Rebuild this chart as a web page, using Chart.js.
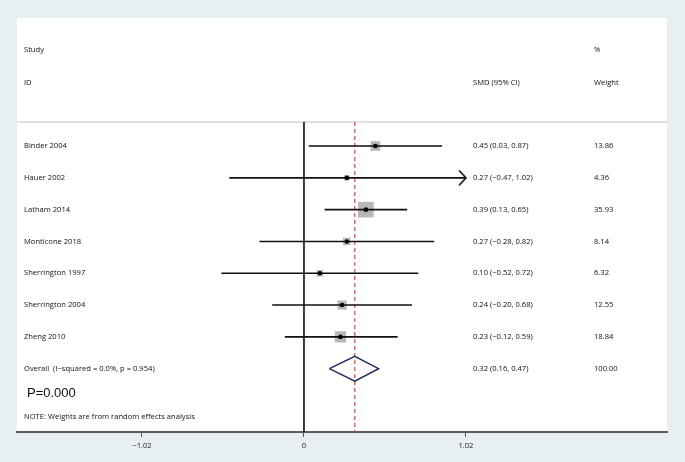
<!DOCTYPE html>
<html><head><meta charset="utf-8">
<script src="https://cdn.jsdelivr.net/npm/chart.js@4.4.1/dist/chart.umd.min.js"></script>
<style>html,body{margin:0;padding:0;background:#e8eff2;overflow:hidden}</style>
</head><body>
<canvas id="c" width="685" height="462" style="display:block;width:685px;height:462px"></canvas>
<script>
const studies = ['Binder 2004','Hauer 2002','Latham 2014','Monticone 2018','Sherrington 1997','Sherrington 2004','Zheng 2010'];
const smd = [0.45, 0.27, 0.39, 0.27, 0.10, 0.24, 0.23];
const ciLow = [0.03, -0.47, 0.13, -0.28, -0.52, -0.20, -0.12];
const ciHigh = [0.87, 1.02, 0.65, 0.82, 0.72, 0.68, 0.59];
const weights = [13.86, 4.36, 35.93, 8.14, 6.32, 12.55, 18.84];
const smdText = ['0.45 (0.03, 0.87)','0.27 (\u22120.47, 1.02)','0.39 (0.13, 0.65)','0.27 (\u22120.28, 0.82)','0.10 (\u22120.52, 0.72)','0.24 (\u22120.20, 0.68)','0.23 (\u22120.12, 0.59)'];
const weightText = ['13.86','4.36','35.93','8.14','6.32','12.55','18.84'];
const overallLabel = 'Overall  (I\u2212squared = 0.0%, p = 0.954)';
const overallSmd = 0.32, overallLow = 0.16, overallHigh = 0.47;
const overallSmdText = '0.32 (0.16, 0.47)';
const overallWeightText = '100.00';
const xTicks = [-1.02, 0, 1.02];
const xTickLabels = ['\u22121.02', '0', '1.02'];
const pText = 'P=0.000';
const noteText = 'NOTE: Weights are from random effects analysis';
const headerLeft = ['Study', 'ID'];
const headerMid = ['', 'SMD (95% CI)'];
const headerRight = ['%', 'Weight'];

// layout constants (row positions in row units)
const Y_MIN = -0.755, Y_MAX = 8.99;
const OVERALL_ROW = studies.length;
const P_ROW = 7.77, NOTE_ROW = 8.52;
const HEADER_ROWS = [-3.02, -1.98];
const X_MIN = -1.807, X_MAX = 2.286;
const FONT = '"Open Sans", "Noto Sans", sans-serif';

// arrow point style
function makeArrow(){
  const c = document.createElement('canvas');
  c.width = 18; c.height = 18;
  const g = c.getContext('2d');
  g.strokeStyle = '#111'; g.lineWidth = 1.6; g.lineJoin='miter';
  g.beginPath(); g.moveTo(2, 1.5); g.lineTo(9, 9); g.lineTo(2, 16.5); g.stroke();
  return c;
}
const arrowImg = makeArrow();

const ciData = [];
studies.forEach((s,i)=>{ ciData.push({x:ciLow[i],y:i},{x:ciHigh[i],y:i},{x:ciHigh[i],y:null}); });
const boxData = studies.map((s,i)=>({x:smd[i],y:i,w:weights[i]}));
const dotData = studies.map((s,i)=>({x:smd[i],y:i}));
const arrowData = studies.map((s,i)=>({x:ciHigh[i],y:i})).filter((p)=>p.x >= xTicks[xTicks.length-1]);
const DH = 0.39;
const diamondData = [{x:overallLow,y:OVERALL_ROW},{x:overallSmd,y:OVERALL_ROW-DH},{x:overallHigh,y:OVERALL_ROW},{x:overallSmd,y:OVERALL_ROW+DH},{x:overallLow,y:OVERALL_ROW}];

const panelPlugin = {
  id:'panel',
  beforeDraw(chart){
    const {ctx, chartArea:a} = chart;
    ctx.save();
    ctx.fillStyle = '#e8eff2'; ctx.fillRect(0,0,chart.width,chart.height);
    ctx.fillStyle = '#ffffff'; ctx.fillRect(a.left, 18, a.right-a.left, a.bottom-18);
    ctx.strokeStyle = '#d6d6d6'; ctx.lineWidth = 1.5;
    ctx.beginPath(); ctx.moveTo(a.left, a.top); ctx.lineTo(a.right, a.top); ctx.stroke();
    ctx.restore();
  },
  afterDraw(chart){
    const {ctx, chartArea:a} = chart;
    const ys = chart.scales.y;
    const xStudy = a.left + 7, xSmd = 473, xW = 594;
    ctx.save();
    ctx.fillStyle = '#111';
    ctx.textBaseline = 'middle'; ctx.textAlign = 'left';
    ctx.font = '7.6px ' + FONT;
    HEADER_ROWS.forEach((r,k)=>{
      const y = ys.getPixelForValue(r);
      ctx.fillText(headerLeft[k], xStudy, y);
      if (headerMid[k]) ctx.fillText(headerMid[k], xSmd, y);
      ctx.fillText(headerRight[k], xW, y);
    });
    studies.forEach((s,i)=>{
      const y = ys.getPixelForValue(i);
      ctx.fillText(s, xStudy, y);
      ctx.fillText(smdText[i], xSmd, y);
      ctx.fillText(weightText[i], xW, y);
    });
    let y = ys.getPixelForValue(OVERALL_ROW);
    ctx.fillText(overallLabel, xStudy, y);
    ctx.fillText(overallSmdText, xSmd, y);
    ctx.fillText(overallWeightText, xW, y);
    ctx.fillText(noteText, xStudy, ys.getPixelForValue(NOTE_ROW));
    ctx.font = '13px "Liberation Sans", Arial, sans-serif';
    ctx.fillStyle = '#111';
    ctx.fillText(pText, a.left + 10, ys.getPixelForValue(P_ROW));
    ctx.restore();
  }
};

new Chart(document.getElementById('c'), {
  type:'line',
  data:{datasets:[
    {type:'scatter', data:dotData, pointStyle:'circle', pointRadius:2.3, pointHoverRadius:2.3, backgroundColor:'#000', borderWidth:0},
    {type:'scatter', data:arrowData, pointStyle:arrowImg, pointRadius:9, pointHoverRadius:9},
    {type:'line', data:ciData, borderColor:'#111', borderWidth:1.6, pointRadius:0, pointHoverRadius:0, spanGaps:false, fill:false, tension:0},
    {type:'scatter', data:boxData, pointStyle:'rect', backgroundColor:'#b8b8b8', borderWidth:0,
      pointRadius:(ctx)=>{const p=ctx.raw; return p? 2.6*Math.sqrt(p.w)/Math.SQRT2 : 0;},
      pointHoverRadius:(ctx)=>{const p=ctx.raw; return p? 2.6*Math.sqrt(p.w)/Math.SQRT2 : 0;}},
    {type:'line', data:diamondData, borderColor:'#1f2a5c', borderWidth:1.5, pointRadius:0, fill:false, tension:0},
    {type:'line', data:[{x:overallSmd,y:Y_MIN},{x:overallSmd,y:Y_MAX}], borderColor:'#b5524e', borderWidth:1.2, borderDash:[4,3], pointRadius:0, fill:false},
    {type:'line', data:[{x:0,y:Y_MIN},{x:0,y:Y_MAX}], borderColor:'#222', borderWidth:1, pointRadius:0, fill:false}
  ]},
  options:{
    responsive:false, animation:false, devicePixelRatio:1,
    layout:{padding:{left:17, right:18, top:122, bottom:0}},
    plugins:{legend:{display:false}, tooltip:{enabled:false}},
    events:[],
    scales:{
      x:{type:'linear', min:X_MIN, max:X_MAX,
        afterBuildTicks:(s)=>{ s.ticks = xTicks.map(v=>({value:v})); },
        afterFit:(s)=>{ s.height = 30; },
        ticks:{autoSkip:false, maxRotation:0, padding:4, color:'#222', font:{family:FONT, size:7.6},
          callback:(v,i)=>xTickLabels[i]},
        grid:{drawOnChartArea:false, drawTicks:true, tickLength:5, color:'#555', lineWidth:1},
        border:{display:true, color:'#5c5c5c', width:2}
      },
      y:{type:'linear', min:Y_MIN, max:Y_MAX, reverse:true, display:false}
    }
  },
  plugins:[panelPlugin]
});
</script>
</body></html>
